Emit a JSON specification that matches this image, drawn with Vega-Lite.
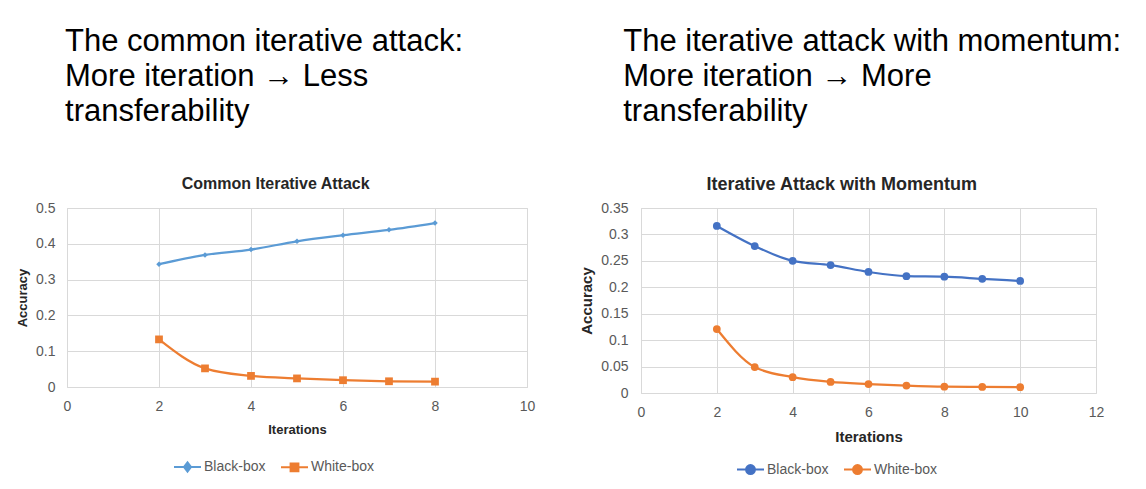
{
  "$schema": "https://vega.github.io/schema/vega-lite/v6.json",
  "background": "white",
  "padding": {"left": 16, "top": 25, "right": 5, "bottom": 5},
  "spacing": 43,
  "datasets": {
    "common": [
      {"Iterations": 2, "Accuracy": 0.343, "Series": "Black-box"},
      {"Iterations": 3, "Accuracy": 0.369, "Series": "Black-box"},
      {"Iterations": 4, "Accuracy": 0.384, "Series": "Black-box"},
      {"Iterations": 5, "Accuracy": 0.407, "Series": "Black-box"},
      {"Iterations": 6, "Accuracy": 0.424, "Series": "Black-box"},
      {"Iterations": 7, "Accuracy": 0.439, "Series": "Black-box"},
      {"Iterations": 8, "Accuracy": 0.458, "Series": "Black-box"},
      {"Iterations": 2, "Accuracy": 0.133, "Series": "White-box"},
      {"Iterations": 3, "Accuracy": 0.052, "Series": "White-box"},
      {"Iterations": 4, "Accuracy": 0.031, "Series": "White-box"},
      {"Iterations": 5, "Accuracy": 0.024, "Series": "White-box"},
      {"Iterations": 6, "Accuracy": 0.019, "Series": "White-box"},
      {"Iterations": 7, "Accuracy": 0.016, "Series": "White-box"},
      {"Iterations": 8, "Accuracy": 0.015, "Series": "White-box"}
    ],
    "momentum": [
      {"Iterations": 2, "Accuracy": 0.316, "Series": "Black-box"},
      {"Iterations": 3, "Accuracy": 0.278, "Series": "Black-box"},
      {"Iterations": 4, "Accuracy": 0.250, "Series": "Black-box"},
      {"Iterations": 5, "Accuracy": 0.242, "Series": "Black-box"},
      {"Iterations": 6, "Accuracy": 0.229, "Series": "Black-box"},
      {"Iterations": 7, "Accuracy": 0.221, "Series": "Black-box"},
      {"Iterations": 8, "Accuracy": 0.220, "Series": "Black-box"},
      {"Iterations": 9, "Accuracy": 0.216, "Series": "Black-box"},
      {"Iterations": 10, "Accuracy": 0.212, "Series": "Black-box"},
      {"Iterations": 2, "Accuracy": 0.121, "Series": "White-box"},
      {"Iterations": 3, "Accuracy": 0.049, "Series": "White-box"},
      {"Iterations": 4, "Accuracy": 0.030, "Series": "White-box"},
      {"Iterations": 5, "Accuracy": 0.021, "Series": "White-box"},
      {"Iterations": 6, "Accuracy": 0.017, "Series": "White-box"},
      {"Iterations": 7, "Accuracy": 0.014, "Series": "White-box"},
      {"Iterations": 8, "Accuracy": 0.012, "Series": "White-box"},
      {"Iterations": 9, "Accuracy": 0.0115, "Series": "White-box"},
      {"Iterations": 10, "Accuracy": 0.011, "Series": "White-box"}
    ]
  },
  "hconcat": [
    {
      "title": {
        "text": ["The common iterative attack:", "More iteration → Less", "transferability"],
        "anchor": "start", "fontSize": 31, "lineHeight": 35, "font": "Liberation Sans",
        "fontWeight": "normal", "color": "#000000", "offset": 48, "dx": 49
      },
      "vconcat": [
        {
          "width": 460, "height": 179,
          "title": {"text": "Common Iterative Attack", "frame": "bounds", "anchor": "middle", "offset": 9, "fontSize": 16},
          "data": {"name": "common"},
          "encoding": {
            "x": {"field": "Iterations", "type": "quantitative", "scale": {"domain": [0, 10], "nice": false},
                  "axis": {"values": [0, 2, 4, 6, 8, 10]}},
            "y": {"field": "Accuracy", "type": "quantitative", "scale": {"domain": [0, 0.5], "nice": false},
                  "axis": {"values": [0, 0.1, 0.2, 0.3, 0.4, 0.5], "format": "~g"}},
            "color": {"field": "Series", "type": "nominal",
                      "scale": {"domain": ["Black-box", "White-box"], "range": ["#5B9BD5", "#ED7D31"]},
                      "legend": {
                        "orient": "none", "legendX": 106, "legendY": 244,
                        "encode": {"symbols": {"update": {
                          "shape": {"signal": "datum.value === 'Black-box' ? 'M-1,0H1M0,-0.34L0.26,0L0,0.34L-0.26,0Z' : 'M-1,0H1M-0.29,-0.29H0.29V0.29H-0.29Z'"},
                          "stroke": {"signal": "datum.value === 'Black-box' ? '#5B9BD5' : '#ED7D31'"},
                          "fill": {"signal": "datum.value === 'Black-box' ? '#5B9BD5' : '#ED7D31'"},
                          "strokeWidth": {"value": 2}
                        }}}
                      }}
          },
          "layer": [
            {"mark": {"type": "line", "interpolate": "monotone", "strokeWidth": 2.25}},
            {"mark": {"type": "point", "filled": true, "opacity": 1},
             "encoding": {
               "shape": {"field": "Series", "type": "nominal", "scale": {"domain": ["Black-box", "White-box"], "range": ["diamond", "square"]}, "legend": null},
               "size": {"field": "Series", "type": "ordinal", "scale": {"domain": ["Black-box", "White-box"], "range": [30, 60]}, "legend": null}
             }}
          ]
        }
      ]
    },
    {
      "title": {
        "text": ["The iterative attack with momentum:", "More iteration → More", "transferability"],
        "anchor": "start", "fontSize": 31, "lineHeight": 35, "font": "Liberation Sans",
        "fontWeight": "normal", "color": "#000000", "offset": 48, "dx": 44
      },
      "vconcat": [
        {
          "width": 455, "height": 185,
          "title": {"text": "Iterative Attack with Momentum", "frame": "bounds", "anchor": "middle", "offset": 7, "fontSize": 18},
          "data": {"name": "momentum"},
          "encoding": {
            "x": {"field": "Iterations", "type": "quantitative", "scale": {"domain": [0, 12], "nice": false},
                  "axis": {"values": [0, 2, 4, 6, 8, 10, 12], "titleFontSize": 15}},
            "y": {"field": "Accuracy", "type": "quantitative", "scale": {"domain": [0, 0.35], "nice": false},
                  "axis": {"values": [0, 0.05, 0.1, 0.15, 0.2, 0.25, 0.3, 0.35], "format": "~g", "titleFontSize": 15, "labelPadding": 13}},
            "color": {"field": "Series", "type": "nominal",
                      "scale": {"domain": ["Black-box", "White-box"], "range": ["#4472C4", "#ED7D31"]},
                      "legend": {
                        "orient": "none", "legendX": 95, "legendY": 247,
                        "encode": {"symbols": {"update": {
                          "shape": {"value": "M-1,0H1M-0.33,0A0.33,0.33 0 1 0 0.33,0A0.33,0.33 0 1 0 -0.33,0Z"},
                          "stroke": {"signal": "datum.value === 'Black-box' ? '#4472C4' : '#ED7D31'"},
                          "fill": {"signal": "datum.value === 'Black-box' ? '#4472C4' : '#ED7D31'"},
                          "strokeWidth": {"value": 2}
                        }}}
                      }}
          },
          "layer": [
            {"mark": {"type": "line", "interpolate": "monotone", "strokeWidth": 2.25}},
            {"mark": {"type": "point", "filled": true, "opacity": 1, "shape": "circle", "size": 60}}
          ]
        }
      ]
    }
  ],
  "resolve": {"scale": {"color": "independent", "x": "independent", "y": "independent"}, "legend": {"color": "independent"}},
  "config": {
    "view": {"stroke": "#D9D9D9"},
    "title": {"font": "Liberation Sans", "fontSize": 14, "fontWeight": "bold", "color": "#262626"},
    "axis": {
      "labelFont": "Liberation Sans", "labelFontSize": 14, "labelColor": "#595959", "labelFlush": false,
      "titleFont": "Liberation Sans", "titleFontSize": 13, "titleFontWeight": "bold", "titleColor": "#262626",
      "gridColor": "#D9D9D9", "domain": false, "ticks": false, "labelPadding": 12
    },
    "axisX": {"titlePadding": 10},
    "axisY": {"titlePadding": 6},
    "legend": {
      "title": null, "direction": "horizontal",
      "labelFont": "Liberation Sans", "labelFontSize": 14, "labelColor": "#595959",
      "symbolSize": 729, "symbolStrokeWidth": 2, "columnPadding": 11, "labelOffset": 2
    }
  }
}
